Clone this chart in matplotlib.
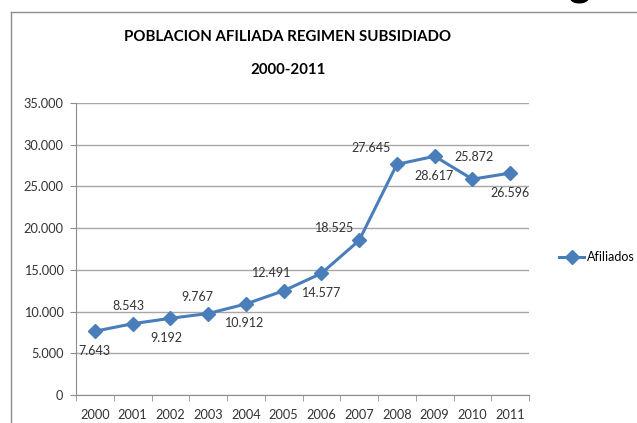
import matplotlib
matplotlib.use("Agg")
import matplotlib.pyplot as plt
from matplotlib.lines import Line2D
from matplotlib.ticker import FuncFormatter

plt.rcParams['font.family'] = ['Lato', 'DejaVu Sans']

years = ['2000', '2001', '2002', '2003', '2004', '2005',
         '2006', '2007', '2008', '2009', '2010', '2011']
afiliados = [7643, 8543, 9192, 9767, 10912, 12491,
             14577, 18525, 27645, 28617, 25872, 26596]
label_text = ['7.643', '8.543', '9.192', '9.767', '10.912', '12.491',
              '14.577', '18.525', '27.645', '28.617', '25.872', '26.596']

# label offsets in pixels (dx, dy), as they sit in the picture
offsets = [(0, -20), (-4, 18), (-4, -20), (-11, 17), (-1, -19), (-12, 18),
           (0, -20), (-25, 12), (-26, 16), (-1, -20), (2, 22), (0, -20)]

W, H = 637, 423
fig = plt.figure(figsize=(W / 100, H / 100), dpi=100)

# outer chart frame (cut by the image edges)
fig.add_artist(Line2D([11 / W, 11 / W], [0, 1 - 12 / H], color='#8c8c8c', lw=1.0))
fig.add_artist(Line2D([11 / W, 1], [1 - 12 / H, 1 - 12 / H], color='#8c8c8c', lw=1.0))

# cut-off letter of the slide title above
fig.text(580 / W, 1 + 5 / H, 'g', fontsize=30, weight='bold', ha='center',
         va='baseline', color='black')

fig.text(288 / W, 1 - 37 / H, 'POBLACION AFILIADA REGIMEN SUBSIDIADO',
         ha='center', va='center', fontsize=10.8, weight='bold', color='black')
fig.text(288 / W, 1 - 70 / H, '2000-2011',
         ha='center', va='center', fontsize=10.8, weight='bold', color='black')

ax = fig.add_axes([76 / W, 1 - 395 / H, (529 - 76) / W, (395 - 103) / H])
x = list(range(len(years)))
line, = ax.plot(x, afiliados, color='#4a7ebb', lw=2.2, marker='D', markersize=7,
                markerfacecolor='#4a7ebb', markeredgecolor='#4a7ebb', label='Afiliados')

for i in x:
    ax.annotate(label_text[i], (i, afiliados[i]), xytext=offsets[i],
                textcoords='offset pixels', ha='center', va='center',
                fontsize=9, color='#333333')

ax.set_xlim(-0.5, len(years) - 0.5)
ax.set_ylim(0, 35000)
ax.set_yticks(range(0, 35001, 5000))
ax.yaxis.set_major_formatter(FuncFormatter(
    lambda v, p: '0' if v == 0 else f'{int(v):,}'.replace(',', '.')))
ax.set_xticks(x)
ax.set_xticklabels(years)
ax.set_xticks([i - 0.5 for i in range(len(years) + 1)], minor=True)
ax.tick_params(axis='x', which='major', length=0, pad=10, labelsize=9.2, labelcolor='#333333')
ax.tick_params(axis='x', which='minor', length=4, color='#8c8c8c', direction='out')
ax.tick_params(axis='y', length=4, color='#8c8c8c', pad=5, labelsize=9.2, labelcolor='#333333')

ax.grid(axis='y', color='#a6a6a6', lw=1.0)
ax.set_axisbelow(True)
for s in ['top', 'right']:
    ax.spines[s].set_visible(False)
for s in ['left', 'bottom']:
    ax.spines[s].set_color('#8c8c8c')

fig.legend(handles=[line], loc='center left', bbox_to_anchor=(559 / W, 1 - 257 / H),
           frameon=False, fontsize=9, handlelength=2.0, handletextpad=0.2,
           borderaxespad=0, borderpad=0)

fig.savefig('out.png', dpi=100)
